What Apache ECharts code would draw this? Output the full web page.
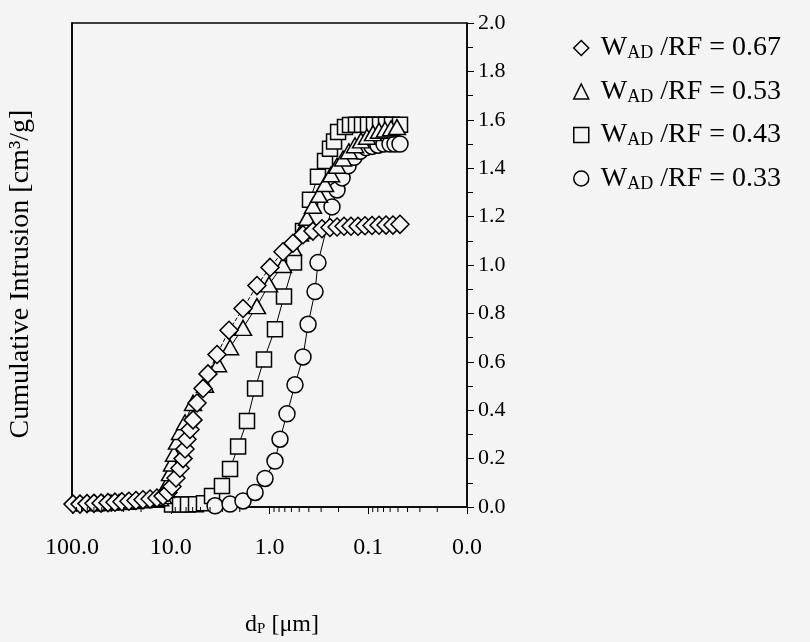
<!DOCTYPE html>
<html lang="en" style="height: 100%">
<head>
<meta charset="utf-8">
<title>Cumulative intrusion vs pore diameter</title>
</head>
<body style="height: 100%; margin: 0; background: #f4f4f4">
<div id="container" style="width: 810px; height: 642px"></div>

<script type="text/javascript" src="https://cdn.jsdelivr.net/npm/echarts@6/dist/echarts.min.js"></script>

<script type="text/javascript">
// pore diameter (um) and cumulative intrusion (cm3/g)
var dpDiamond = [97.7, 83.0, 70.5, 59.9, 50.8, 43.2, 36.7, 31.2, 26.5, 22.5, 19.1, 16.2, 13.8, 11.98, 10.66, 9.71, 8.85, 8.06, 7.51, 7.17, 6.85, 6.38, 5.95, 5.42, 4.71, 4.20, 3.40, 2.57, 1.855, 1.34, 0.988, 0.730, 0.578, 0.458, 0.363, 0.294, 0.244, 0.207, 0.176, 0.1496, 0.1270, 0.1079, 0.0916, 0.0778, 0.0661, 0.0562, 0.0477];
var ciDiamond = [0.012, 0.012, 0.014, 0.015, 0.016, 0.018, 0.02, 0.022, 0.024, 0.027, 0.03, 0.033, 0.037, 0.045, 0.06, 0.085, 0.12, 0.16, 0.2, 0.24, 0.28, 0.32, 0.36, 0.43, 0.49, 0.55, 0.63, 0.73, 0.82, 0.915, 0.99, 1.055, 1.09, 1.125, 1.14, 1.15, 1.155, 1.157, 1.16, 1.16, 1.16, 1.162, 1.163, 1.164, 1.165, 1.165, 1.168];

var dpTriangle = [58.5, 48.5, 40.3, 33.4, 27.7, 23.0, 19.1, 16.2, 14.1, 12.8, 11.98, 11.17, 10.66, 10.18, 9.71, 9.27, 8.65, 8.06, 7.17, 5.95, 4.50, 3.32, 2.51, 1.855, 1.34, 1.012, 0.730, 0.578, 0.491, 0.417, 0.363, 0.315, 0.274, 0.238, 0.207, 0.180, 0.157, 0.1362, 0.1184, 0.1030, 0.0895, 0.0778, 0.0677, 0.0588, 0.0512];
var ciTriangle = [0.015, 0.016, 0.018, 0.02, 0.022, 0.025, 0.028, 0.03, 0.033, 0.036, 0.045, 0.07, 0.1, 0.14, 0.18, 0.22, 0.27, 0.31, 0.35, 0.43, 0.505, 0.59, 0.66, 0.74, 0.83, 0.92, 1.0, 1.07, 1.13, 1.195, 1.245, 1.29, 1.335, 1.375, 1.41, 1.44, 1.47, 1.495, 1.515, 1.53, 1.545, 1.555, 1.56, 1.565, 1.57];

var dpSquare = [9.71, 8.06, 6.69, 5.55, 4.61, 3.82, 3.03, 2.51, 2.08, 1.69, 1.40, 1.137, 0.880, 0.713, 0.565, 0.458, 0.389, 0.323, 0.274, 0.244, 0.222, 0.202, 0.172, 0.153, 0.1331, 0.1157, 0.1006, 0.0875, 0.0760, 0.0661, 0.0575, 0.0477];
var ciSquare = [0.01, 0.01, 0.01, 0.011, 0.015, 0.045, 0.087, 0.157, 0.25, 0.355, 0.49, 0.61, 0.735, 0.87, 1.01, 1.14, 1.27, 1.365, 1.43, 1.48, 1.51, 1.55, 1.57, 1.578, 1.58, 1.58, 1.58, 1.58, 1.58, 1.58, 1.58, 1.58];

var dpCircle = [3.56, 2.51, 1.855, 1.40, 1.11, 0.880, 0.783, 0.665, 0.552, 0.458, 0.407, 0.346, 0.323, 0.233, 0.207, 0.184, 0.160, 0.1394, 0.1212, 0.1054, 0.0916, 0.0797, 0.0693, 0.0602, 0.0536, 0.0477];
var ciCircle = [0.005, 0.012, 0.025, 0.06, 0.118, 0.19, 0.28, 0.385, 0.505, 0.62, 0.755, 0.89, 1.01, 1.24, 1.31, 1.36, 1.41, 1.445, 1.47, 1.485, 1.49, 1.495, 1.5, 1.5, 1.5, 1.5];

var ratios = ['0.67', '0.53', '0.43', '0.33'];
var minorTickValues = [0.02, 0.03, 0.04, 0.05, 0.06, 0.07, 0.08, 0.09, 0.2, 0.3, 0.4, 0.5, 0.6, 0.7, 0.8, 0.9, 2, 3, 4, 5, 6, 7, 8, 9, 20, 30, 40, 50, 60, 70, 80, 90];

var BG = '#f4f4f4';
var FONT = 'Liberation Serif';

function pairs(xs, ys) {
    return xs.map(function (x, i) { return [x, ys[i]]; });
}

var sets = {
    '0.67': { data: pairs(dpDiamond, ciDiamond), symbol: 'diamond', size: [18, 18], dash: 'dashed' },
    '0.53': { data: pairs(dpTriangle, ciTriangle), symbol: 'triangle', size: [17, 15], dash: 'solid' },
    '0.43': { data: pairs(dpSquare, ciSquare), symbol: 'rect', size: [15, 15], dash: 'solid' },
    '0.33': { data: pairs(dpCircle, ciCircle), symbol: 'circle', size: 16, dash: 'solid' }
};

var series = [];
// thin connecting lines underneath the markers
ratios.forEach(function (r) {
    series.push({
        name: 'line ' + r,
        type: 'line',
        data: sets[r].data,
        symbol: 'none',
        lineStyle: { color: '#000', width: 1, type: sets[r].dash },
        z: 1
    });
});
// markers: squares, circles, triangles, diamonds (last on top)
['0.43', '0.33', '0.53', '0.67'].forEach(function (r, i) {
    series.push({
        name: r,
        type: 'scatter',
        data: sets[r].data,
        symbol: sets[r].symbol,
        symbolSize: sets[r].size,
        itemStyle: { color: BG, borderColor: '#000', borderWidth: 1.5, opacity: 1 },
        z: 2 + i
    });
});
// log minor ticks on the diameter axis
series.push({
    type: 'custom',
    data: minorTickValues.map(function (v) { return [v, 0]; }),
    silent: true,
    z: 10,
    renderItem: function (params, api) {
        var p = api.coord([api.value(0), 0]);
        return {
            type: 'line',
            shape: { x1: p[0], y1: p[1], x2: p[0], y2: p[1] + 5 },
            style: { stroke: '#000', lineWidth: 1 }
        };
    }
});

var dom = document.getElementById('container');
var myChart = echarts.init(dom, null, { renderer: 'canvas' });

var option = {
    backgroundColor: BG,
    animation: false,
    textStyle: { fontFamily: FONT, color: '#000' },
    grid: {
        left: 72, right: 343, top: 23, bottom: 134,
        show: true, borderColor: '#000', borderWidth: 1.5, backgroundColor: 'transparent'
    },
    legend: {
        orient: 'vertical',
        left: 568,
        top: 29,
        itemGap: 15,
        itemWidth: 15,
        itemHeight: 15,
        data: [
            { name: '0.67', icon: 'diamond' },
            { name: '0.53', icon: 'triangle' },
            { name: '0.43', icon: 'rect' },
            { name: '0.33', icon: 'circle' }
        ],
        itemStyle: { color: BG, borderColor: '#000', borderWidth: 1.5 },
        formatter: function (name) {
            return '{n|W}{s|AD}{n| /RF = ' + name + '}';
        },
        textStyle: {
            color: '#000',
            padding: [0, 0, 0, 7],
            rich: {
                n: { fontFamily: FONT, fontSize: 28, color: '#000' },
                s: { fontFamily: FONT, fontSize: 18, color: '#000', padding: [11, 0, 0, 0] }
            }
        }
    },
    xAxis: {
        type: 'log',
        logBase: 10,
        min: 0.01,
        max: 100,
        inverse: true,
        splitNumber: 4,
        name: '{n|d}{s|P}{n| [μm]}',
        nameLocation: 'middle',
        nameGap: 106,
        nameTextStyle: {
            padding: [0, 0, 0, 25],
            rich: {
                n: { fontFamily: FONT, fontSize: 24, color: '#000' },
                s: { fontFamily: FONT, fontSize: 15, color: '#000', padding: [9, 0, 0, 0] }
            }
        },
        axisLine: { lineStyle: { color: '#000', width: 1.5 } },
        axisTick: { length: 7, lineStyle: { color: '#000', width: 1 } },
        axisLabel: {
            margin: 29,
            fontFamily: FONT,
            fontSize: 24,
            color: '#000',
            showMinLabel: true,
            showMaxLabel: true,
            formatter: function (v) { return Number(v).toFixed(1); }
        },
        splitLine: { show: false }
    },
    yAxis: [
        {
            type: 'value',
            position: 'right',
            min: 0,
            max: 2,
            interval: 0.2,
            axisLine: { show: true, lineStyle: { color: '#000', width: 1.5 } },
            axisTick: { show: true, length: 7, lineStyle: { color: '#000', width: 1 } },
            minorTick: { show: true, splitNumber: 2, length: 6, lineStyle: { color: '#000', width: 1 } },
            axisLabel: {
                margin: 11,
                fontFamily: FONT,
                fontSize: 22,
                color: '#000',
                formatter: function (v) { return v.toFixed(1); }
            },
            splitLine: { show: false }
        },
        {
            type: 'value',
            position: 'left',
            min: 0,
            max: 2,
            name: 'Cumulative Intrusion [cm³/g]',
            nameLocation: 'middle',
            nameRotate: 90,
            nameGap: 37,
            nameTextStyle: { fontFamily: FONT, fontSize: 28, color: '#000', padding: [0, 18, 0, 0] },
            axisLine: { show: true, lineStyle: { color: '#000', width: 1.5 } },
            axisTick: { show: false },
            axisLabel: { show: false },
            splitLine: { show: false }
        }
    ],
    series: series
};

myChart.setOption(option);
window.addEventListener('resize', myChart.resize);
</script>
</body>
</html>
